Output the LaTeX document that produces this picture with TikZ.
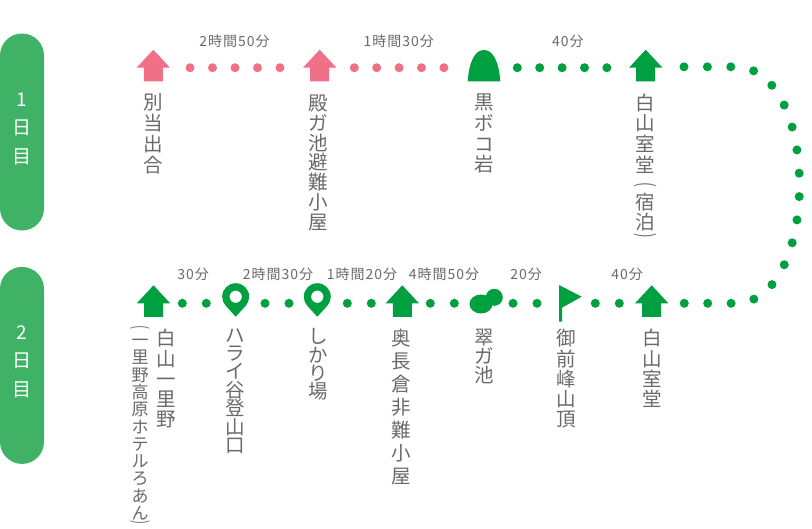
\documentclass[tikz,border=0pt]{standalone}
\usepackage{fontspec}
\setmainfont{Noto Sans CJK JP}
\newfontfamily\timefont[LetterSpace=7]{Noto Sans CJK JP}
\usepackage{xcolor}
\definecolor{routegreen}{HTML}{00A040}
\definecolor{routepink}{HTML}{F07087}
\definecolor{daygreen}{HTML}{3FB265}
\definecolor{labelgray}{HTML}{6A6A6A}
\newcommand{\vlp}{\rotatebox[origin=c]{-90}{\scalebox{0.7}[1.15]{(}}}
\newcommand{\vrp}{\rotatebox[origin=c]{-90}{\scalebox{0.7}[1.15]{)}}}
\tikzset{
  daypill/.style={fill=daygreen, rounded corners=22pt, minimum width=44pt,
    minimum height=197pt, inner sep=0pt},
  daytext/.style={text=white, align=center, inner sep=0pt,
    font=\fontsize{19}{28.5}\selectfont},
  stoplabel/.style={text=labelgray, align=center, anchor=north, inner sep=0pt,
    font=\fontsize{19.5}{#1}\selectfont},
  stoplabel/.default=20.8,
  subtext/.style={stoplabel, font=\fontsize{17}{17.3}\selectfont},
  timelabel/.style={text=labelgray, inner sep=0pt, font=\fontsize{14}{16}\selectfont\timefont},
  dotrun/.style={line width=9pt, line cap=round},
  housemark/.pic={
    \fill (0,-18) -- (16.7,0) -- (9.5,0) -- (9.5,13.6) -- (-9.5,13.6) -- (-9.5,0) -- (-16.7,0) -- cycle;
  },
  moundmark/.pic={
    \fill (-16.3,13.6) .. controls (-15,-4) and (-10,-17.7) .. (0,-17.7)
      .. controls (10,-17.7) and (15,-4) .. (16.3,13.6) -- cycle;
  },
  pinmark/.pic={
    \fill[even odd rule] (0,13.4) -- (-9.95,2.52) .. controls (-12.2,0.1) and (-13.5,-3.2) .. (-13.5,-6.6)
      .. controls (-13.5,-14) and (-7.5,-20.1) .. (0,-20.1)
      .. controls (7.5,-20.1) and (13.5,-14) .. (13.5,-6.6)
      .. controls (13.5,-3.2) and (12.2,0.1) .. (9.95,2.52) -- cycle
      (0,-6.6) circle (6.2pt);
  },
  pondmark/.pic={
    \fill (0,0.7) ellipse (11.5pt and 9.5pt);
    \fill (13.3,-6) circle (8.5pt);
  },
  flagmark/.pic={
    \fill (-1,-18.3) -- (21.7,-6.6) -- (2,4.4) -- (2,18.4) -- (-1,18.4) -- cycle;
  }
}
\begin{document}
\begin{tikzpicture}[x=1pt,y=-1pt]
  \useasboundingbox (0,0) rectangle (812,528);

  \node[daypill] (dayone) at (22,132) {};
  \node[daypill] (daytwo) at (22,365.4) {};
  \node[daytext] (dayonetext) at (22,128.5) {1\\日\\目};
  \node[daytext] (daytwotext) at (22,361.5) {2\\日\\目};

  \coordinate (betto) at (153.3,67.7);
  \coordinate (tono) at (319.7,67.7);
  \coordinate (kuroboko) at (484,67.7);
  \coordinate (murodo) at (645.7,67.7);
  \coordinate (ichirino) at (153.5,303.3);
  \coordinate (harai) at (235.7,303.3);
  \coordinate (shikari) at (317.3,303.3);
  \coordinate (okunaga) at (402.3,303.3);
  \coordinate (midori) at (481,303.3);
  \coordinate (gozen) at (560,303.3);
  \coordinate (muroback) at (651.7,303.3);
  \coordinate (bendtop) at (735,66.8);
  \coordinate (bendside) at (799.5,185);
  \coordinate (bendlow) at (735,303.3);

  \pic[routepink] at (betto) {housemark};
  \pic[routepink] at (tono) {housemark};
  \pic[routegreen] at (kuroboko) {moundmark};
  \pic[routegreen] at (murodo) {housemark};
  \pic[routegreen] at (ichirino) {housemark};
  \pic[routegreen] at (harai) {pinmark};
  \pic[routegreen] at (shikari) {pinmark};
  \pic[routegreen] at (okunaga) {housemark};
  \pic[routegreen] at (midori) {pondmark};
  \pic[routegreen] at (gozen) {flagmark};
  \pic[routegreen] at (muroback) {housemark};

  \foreach \from/\to/\tint/\gap/\ini/\fin in {
    betto/tono/routepink/22.5/36.7/38.7,
    tono/kuroboko/routepink/22.4/34.6/39.2,
    kuroboko/murodo/routegreen/22.4/33.3/37.9,
    ichirino/harai/routegreen/24/28.8/28.6,
    harai/shikari/routegreen/24/29.3/27.9,
    shikari/okunaga/routegreen/24/30/30.2,
    okunaga/midori/routegreen/24/28/25.9,
    midori/gozen/routegreen/24/32/22.6,
    gozen/muroback/routegreen/24/35.3/32
  }{
    \draw[dotrun, \tint, dash pattern=on 0pt off \gap pt,
      shorten <=\ini pt, shorten >=\fin pt] (\from) -- (\to);
  }
  \draw[dotrun, routegreen, dash pattern=on 0pt off 23.4pt, shorten <=38.3pt, shorten >=31.5pt]
    (murodo |- bendtop) -- (bendtop) .. controls (778,66.8) and (799.5,125) .. (bendside)
    .. controls (799.5,245) and (778,303.3) .. (bendlow) -- (muroback);

  \node[timelabel] (timea) at (234.5,41) {2時間50分};
  \node[timelabel] (timeb) at (398.8,41) {1時間30分};
  \node[timelabel] (timec) at (567.8,41) {40分};
  \node[timelabel] (timed) at (193,274.3) {30分};
  \node[timelabel] (timee) at (278,274.3) {2時間30分};
  \node[timelabel] (timef) at (362,274.3) {1時間20分};
  \node[timelabel] (timeg) at (444,274.3) {4時間50分};
  \node[timelabel] (timeh) at (526,274.3) {20分};
  \node[timelabel] (timei) at (627,274.3) {40分};

  \node[stoplabel] (bettotext) at (153.3,93.5) {別\\当\\出\\合};
  \node[stoplabel=19.9] (tonotext) at (318.3,94.5) {殿\\ガ\\池\\避\\難\\小\\屋};
  \node[stoplabel] (kurobokotext) at (484,93.5) {黒\\ボ\\コ\\岩};
  \node[stoplabel] (murodotext) at (645.7,93.5) {白\\山\\室\\堂\\[-2pt]\vlp\\[-3pt]宿\\泊\\[-8pt]\vrp};
  \node[stoplabel=20.2] (ichirinotext) at (166,329.2) {白\\山\\一\\里\\野};
  \node[subtext] (hoteltext) at (140,325) {\vlp\\[-4pt]一\\里\\野\\高\\原\\ホ\\テ\\ル\\ろ\\あ\\ん\\[-8pt]\vrp};
  \node[stoplabel=18.4] (haraitext) at (235.7,328.2) {ハ\\ラ\\イ\\谷\\登\\山\\口};
  \node[stoplabel=18.4] (shikaritext) at (318.3,328.2) {し\\か\\り\\場};
  \node[stoplabel=22.9] (okunagatext) at (401,329.2) {奥\\長\\倉\\非\\難\\小\\屋};
  \node[stoplabel=18.7] (midoritext) at (484,329.2) {翠\\ガ\\池};
  \node[stoplabel=20.2] (gozentext) at (566,329.2) {御\\前\\峰\\山\\頂};
  \node[stoplabel=20.2] (murobacktext) at (652.3,329.2) {白\\山\\室\\堂};
\end{tikzpicture}
\end{document}
